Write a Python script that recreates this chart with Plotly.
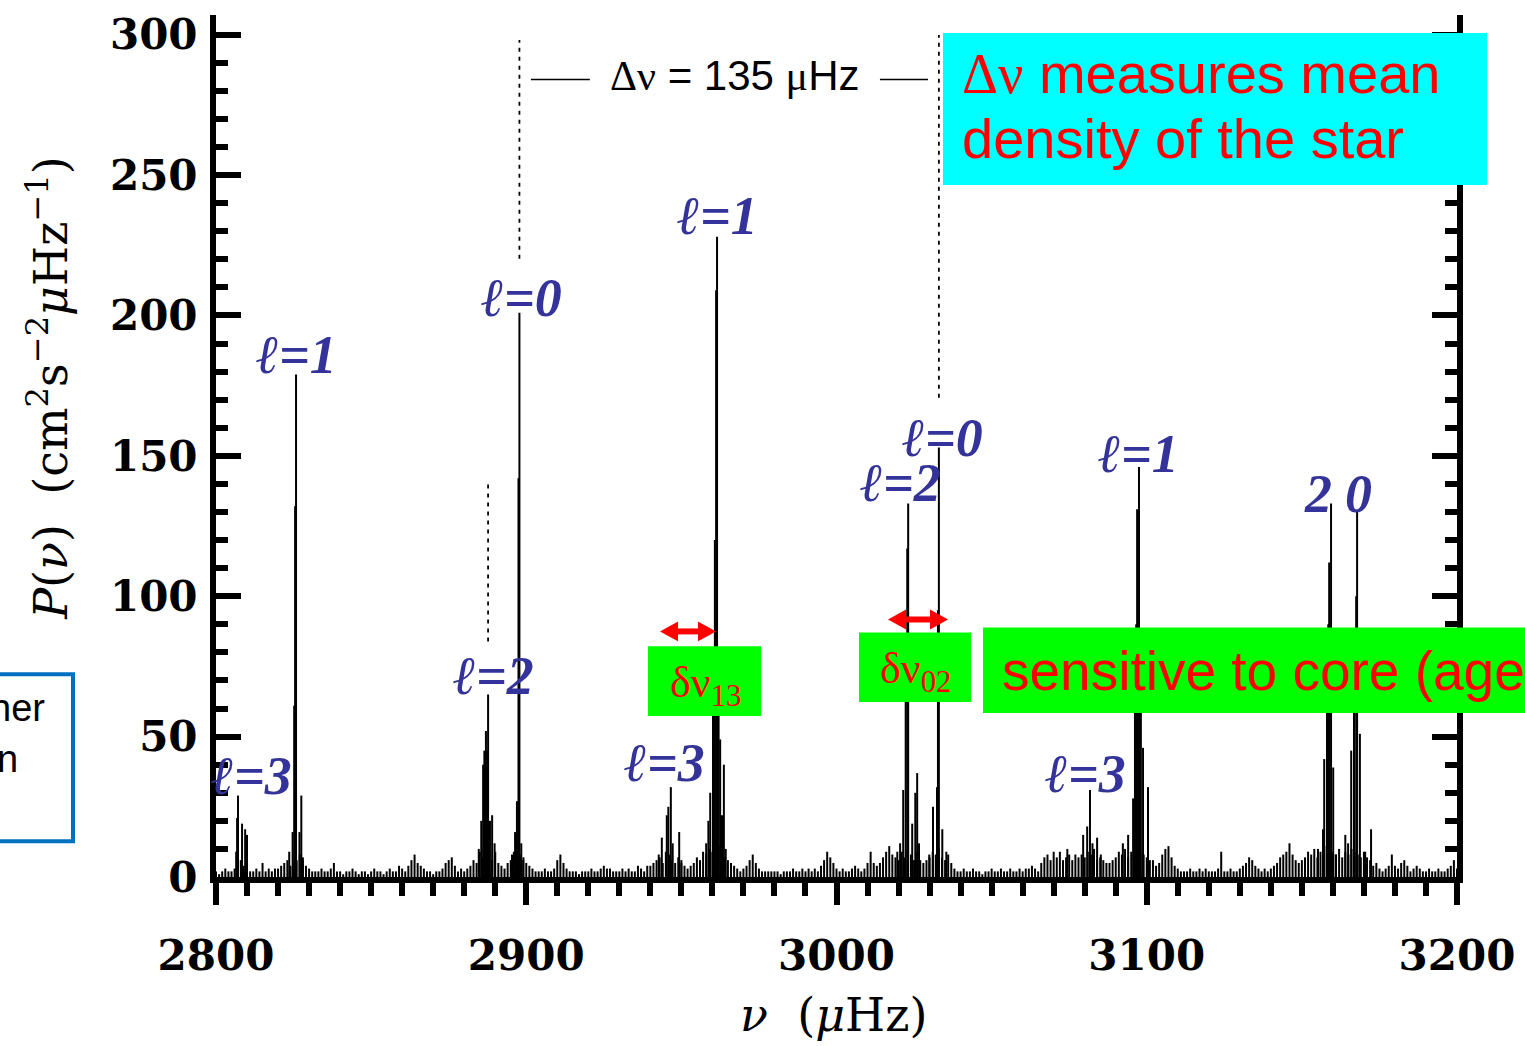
import plotly.graph_objects as go

# ---------------- data ----------------
nu_range = [2800, 3200]          # micro-Hz
p_range = [0, 307]               # cm^2 s^-2 uHz^-1

# background noise, one value per 1 uHz bin starting at 2800 uHz
noise_start = 2800.0
noise_step = 1.0
noise_p = [
    2, 1, 2, 3, 2, 2, 3, 5, 6, 4, 3, 2, 2, 3, 2, 5, 2, 3, 2, 3,      # 2800
    3, 4, 5, 6, 4, 5, 6, 8, 6, 4, 3, 2, 2, 2, 3, 2, 2, 3, 5, 2,      # 2820
    2, 1, 2, 2, 3, 2, 1, 2, 2, 1, 2, 3, 2, 2, 1, 2, 3, 2, 2, 4,      # 2840
    3, 2, 4, 6, 8, 5, 4, 3, 2, 2, 1, 2, 2, 3, 5, 6, 7, 4, 2, 3,      # 2860
    2, 3, 4, 6, 5, 9, 7, 11, 8, 6, 9, 5, 4, 3, 5, 6, 9, 7, 8, 6,     # 2880
    5, 4, 3, 2, 2, 2, 3, 2, 2, 3, 6, 8, 5, 3, 2, 2, 2, 1, 2, 2,      # 2900
    2, 3, 2, 2, 3, 4, 3, 3, 2, 2, 2, 3, 2, 3, 2, 2, 4, 3, 2, 4,      # 2920
    4, 5, 6, 7, 5, 9, 8, 6, 5, 7, 5, 4, 3, 4, 5, 7, 6, 9, 8, 10,     # 2940
    9, 7, 11, 8, 7, 6, 5, 4, 3, 2, 3, 4, 6, 8, 5, 3, 2, 2, 2, 2,     # 2960
    2, 2, 1, 2, 2, 2, 3, 2, 2, 3, 2, 3, 2, 3, 2, 4, 6, 9, 7, 5,      # 2980
    3, 2, 3, 2, 2, 3, 4, 3, 2, 3, 5, 9, 5, 4, 5, 7, 9, 11, 8, 7,     # 3000
    6, 9, 7, 10, 8, 6, 9, 6, 5, 6, 7, 9, 8, 10, 7, 6, 8, 5, 3, 2,    # 3020
    2, 3, 2, 2, 3, 2, 2, 1, 2, 2, 3, 2, 2, 3, 2, 2, 3, 2, 2, 3,      # 3040
    2, 3, 3, 4, 3, 2, 5, 7, 8, 6, 9, 7, 9, 6, 7, 8, 6, 8, 7, 8,      # 3060
    7, 9, 8, 10, 6, 7, 6, 5, 5, 6, 7, 9, 8, 10, 7, 9, 8, 11, 9, 8,   # 3080
    7, 6, 6, 4, 5, 8, 10, 11, 7, 4, 3, 2, 2, 2, 3, 2, 2, 3, 2, 3,    # 3100
    2, 2, 2, 3, 9, 2, 2, 3, 2, 2, 3, 4, 5, 7, 6, 4, 3, 2, 3, 2,      # 3120
    3, 4, 5, 7, 8, 9, 12, 8, 6, 5, 6, 7, 9, 8, 10, 7, 9, 8, 11, 9,   # 3140
    9, 8, 10, 7, 9, 8, 10, 9, 8, 7, 9, 7, 6, 4, 5, 3, 2, 3, 4, 8,    # 3160
    4, 3, 5, 6, 4, 2, 3, 4, 3, 2, 2, 3, 2, 2, 3, 2, 2, 3, 4, 6, 3,   # 3180-3200
]

# resolved oscillation-mode spikes (frequency, power)
peak_nu = [
    2806.5, 2806.8, 2807.1, 2808.4, 2809.4, 2810.0,                                  # l=3
    2823.6, 2824.7, 2825.2, 2825.5, 2825.8, 2826.9, 2827.5, 2828.0,                  # l=1
    2884.7, 2885.5, 2886.1, 2886.5, 2887.0, 2887.4, 2887.7, 2888.3, 2889.0, 2889.8,  # l=2
    2895.4, 2896.4, 2897.0, 2897.5, 2897.8, 2898.4, 2899.1,                          # l=0
    2942.7, 2943.7, 2945.3, 2945.8, 2946.6, 2947.2, 2949.3, 2950.0,                  # l=3
    2958.0, 2958.7, 2959.3, 2960.2, 2960.8, 2961.2, 2961.5, 2962.0, 2962.5, 2963.1, 2963.7, 2964.3,  # l=1
    3019.6, 3020.5, 3021.5, 3022.3, 3022.8, 3023.1, 3024.4, 3025.4, 3026.0, 3026.6,  # l=2
    3029.9, 3031.1, 3032.4, 3032.7, 3033.0, 3034.1, 3035.4,                          # l=0
    3074.4, 3079.5, 3080.8, 3081.7, 3082.5, 3084.0, 3085.2,                          # l=3
    3092.3, 3094.0, 3095.6, 3096.2, 3096.6, 3096.9, 3097.5, 3098.1, 3098.8, 3100.4,  # l=1
    3155.2, 3156.8, 3157.2, 3158.1, 3158.5, 3158.8, 3159.4, 3160.1, 3160.9,          # l=2
    3164.0, 3164.9, 3165.9, 3166.8, 3167.5, 3167.8, 3168.7, 3170.4, 3172.3,          # l=0
]
peak_p = [
    9, 21, 29, 19, 17, 15,
    9, 16, 61, 132, 179, 16, 29, 7,
    10, 20, 40, 45, 52, 45, 65, 20, 22, 12,
    8, 16, 27, 142, 201, 12, 7,
    8, 14, 22, 25, 32, 12, 16, 6,
    12, 20, 30, 60, 120, 209, 228, 59, 49, 22, 40, 10,
    9, 12, 31, 80, 117, 133, 19, 30, 37, 12,
    8, 25, 32, 95, 153, 17, 9,
    10, 15, 18, 31, 12, 14, 8,
    12, 15, 28, 75, 90, 131, 146, 65, 46, 32,
    10, 17, 42, 75, 90, 112, 133, 39, 8,
    15, 12, 45, 70, 100, 130, 51, 9, 17,
]

# mode labels
label_text = ["ℓ=3", "ℓ=1", "ℓ=2", "ℓ=0", "ℓ=3", "ℓ=1", "ℓ=2", "ℓ=0", "ℓ=1", "ℓ=3", "2", "0"]
label_nu = [2811.6, 2826.1, 2889.3, 2898.6, 2944.7, 2961.5, 3020.5, 3034.3, 3097.2, 3080.4, 3155.2, 3168.1]
label_p = [36.1, 185.9, 71.5, 206.1, 40.7, 235.5, 140.2, 156.2, 150.8, 36.8, 136.3, 136.3]

# large separation marker
delta_nu_left = 2897.8
delta_nu_right = 3033.0
x_tick_vals = [2800, 2900, 3000, 3100, 3200]
y_tick_vals = [0, 50, 100, 150, 200, 250, 300]

# ---------------- figure ----------------
W, H = 1525, 1046
ML, MR, MT, MB = 216, 68, 10, 169
PW, PH = W - ML - MR, H - MT - MB


def fx(px):
    return (px - ML) / PW


def fy(py):
    return (MT + PH - py) / PH


def stems(xs, ys):
    sx, sy = [], []
    for x, y in zip(xs, ys):
        sx += [x, x, None]
        sy += [0, y, None]
    return sx, sy


noise_nu = [noise_start + i * noise_step for i in range(len(noise_p))]
nx, ny = stems(noise_nu, noise_p)
px_, py_ = stems(peak_nu, peak_p)

fig = go.Figure()
fig.add_trace(go.Scatter(x=nx, y=ny, mode="lines", line=dict(color="black", width=2.0),
                         hoverinfo="skip", showlegend=False))
fig.add_trace(go.Scatter(x=px_, y=py_, mode="lines", line=dict(color="black", width=2.0),
                         hoverinfo="skip", showlegend=False))

tick_font = dict(family="DejaVu Serif", size=42, color="black", weight="bold")
title_font = dict(family="DejaVu Serif", size=46, color="black")
serif = "Liberation Serif"
sans = "Liberation Sans"

fig.update_layout(
    width=W, height=H, autosize=False,
    margin=dict(l=ML, r=MR, t=MT, b=MB, pad=0),
    paper_bgcolor="white", plot_bgcolor="white",
    showlegend=False,
    xaxis=dict(range=nu_range, tickvals=x_tick_vals, ticks="outside", ticklen=22, tickwidth=6,
               tickcolor="black", showline=True, linewidth=6, linecolor="black",
               showgrid=False, zeroline=False, tickfont=tick_font, ticklabelstandoff=15,
               minor=dict(dtick=10, ticks="outside", ticklen=13, tickwidth=6, tickcolor="black",
                          showgrid=False)),
    yaxis=dict(range=p_range, tickvals=y_tick_vals, ticks="inside", ticklen=25, tickwidth=6,
               tickcolor="black", showline=True, linewidth=6, linecolor="black", mirror="ticks",
               showgrid=False, zeroline=False, tickfont=tick_font, ticklabelstandoff=4,
               minor=dict(dtick=10, ticks="inside", ticklen=12, tickwidth=6, tickcolor="black",
                          showgrid=False)),
)

shapes = []
# dotted guide lines
dot = dict(color="black", width=1.8, dash="4px,5px")
shapes.append(dict(type="line", xref="x", yref="y", x0=delta_nu_left, x1=delta_nu_left,
                   y0=220.2, y1=298.1, line=dot))
shapes.append(dict(type="line", xref="x", yref="y", x0=delta_nu_right, x1=delta_nu_right,
                   y0=170.7, y1=299.9, line=dot))
shapes.append(dict(type="line", xref="x", yref="y", x0=2887.7, x1=2887.7,
                   y0=83.9, y1=140.6, line=dot))
# bracket lines of the delta-nu label
shapes.append(dict(type="line", xref="x", yref="y", x0=2901.5, x1=2920.5, y0=284.0, y1=284.0,
                   line=dict(color="black", width=1.5)))
shapes.append(dict(type="line", xref="x", yref="y", x0=3014.0, x1=3029.5, y0=284.0, y1=284.0,
                   line=dict(color="black", width=1.5)))
# coloured boxes
shapes.append(dict(type="rect", xref="paper", yref="paper", x0=fx(943), x1=fx(1487),
                   y0=fy(181), y1=fy(28), fillcolor="#00FFFF", line=dict(width=0)))
shapes.append(dict(type="rect", xref="paper", yref="paper", x0=fx(648), x1=fx(761),
                   y0=fy(715), y1=fy(645), fillcolor="#00FF00", line=dict(width=0)))
shapes.append(dict(type="rect", xref="paper", yref="paper", x0=fx(859), x1=fx(971),
                   y0=fy(701), y1=fy(631), fillcolor="#00FF00", line=dict(width=0)))
shapes.append(dict(type="rect", xref="paper", yref="paper", x0=fx(983), x1=fx(1545),
                   y0=fy(712), y1=fy(626), fillcolor="#00FF00", line=dict(width=0)))
shapes.append(dict(type="rect", xref="paper", yref="paper", x0=fx(-10), x1=fx(73),
                   y0=fy(841), y1=fy(673), fillcolor="rgba(0,0,0,0)",
                   line=dict(color="#0070C0", width=4)))

# red double-headed arrows (shaft + two heads), pixel geometry -> paper coords
for xl, xr, yy in [(660, 716, 630), (888, 948, 618)]:
    head_len, head_half = 18, 10
    shapes.append(dict(type="line", xref="paper", yref="paper",
                       x0=fx(xl + head_len - 2), x1=fx(xr - head_len + 2), y0=fy(yy), y1=fy(yy),
                       line=dict(color="#FF0000", width=6)))
    left_head = (f"M {fx(xl)} {fy(yy)} L {fx(xl + head_len)} {fy(yy - head_half)} "
                 f"L {fx(xl + head_len)} {fy(yy + head_half)} Z")
    right_head = (f"M {fx(xr)} {fy(yy)} L {fx(xr - head_len)} {fy(yy - head_half)} "
                  f"L {fx(xr - head_len)} {fy(yy + head_half)} Z")
    for pth in (left_head, right_head):
        shapes.append(dict(type="path", xref="paper", yref="paper", path=pth,
                           fillcolor="#FF0000", line=dict(width=0)))
fig.update_layout(shapes=shapes)

ann = []
for t, x, y in zip(label_text, label_nu, label_p):
    ann.append(dict(x=x, y=y, xref="x", yref="y", text=t, showarrow=False,
                    xanchor="center", yanchor="middle",
                    font=dict(family=serif, size=54, color="#333399", weight="bold", style="italic")))

ann.append(dict(x=2967.0, y=285.5, xref="x", yref="y", showarrow=False,
                xanchor="center", yanchor="middle",
                text=f'<span style="font-family:{serif}">Δν</span> = 135 '
                     f'<span style="font-family:{serif}">μ</span>Hz',
                font=dict(family=sans, size=42, color="black")))

ann.append(dict(x=fx(960), y=fy(69), xref="paper", yref="paper", showarrow=False,
                xanchor="left", yanchor="middle",
                text=f'<span style="font-family:{serif}">Δν</span> measures mean',
                font=dict(family=sans, size=56, color="#FF0000")))
ann.append(dict(x=fx(960), y=fy(134), xref="paper", yref="paper", showarrow=False,
                xanchor="left", yanchor="middle", text="density of the star",
                font=dict(family=sans, size=56, color="#FF0000")))

ann.append(dict(x=fx(705), y=fy(684), xref="paper", yref="paper", showarrow=False,
                xanchor="center", yanchor="middle",
                text="δν<sub>13</sub>", font=dict(family=serif, size=44, color="#FF0000")))
ann.append(dict(x=fx(915), y=fy(670), xref="paper", yref="paper", showarrow=False,
                xanchor="center", yanchor="middle",
                text="δν<sub>02</sub>", font=dict(family=serif, size=44, color="#FF0000")))
ann.append(dict(x=fx(1000), y=fy(670), xref="paper", yref="paper", showarrow=False,
                xanchor="left", yanchor="middle", text="sensitive to core (age)",
                font=dict(family=sans, size=55, color="#FF0000")))

ann.append(dict(x=fx(47), y=fy(707), xref="paper", yref="paper", showarrow=False,
                xanchor="right", yanchor="middle", text="her",
                font=dict(family=sans, size=38, color="black")))
ann.append(dict(x=fx(20), y=fy(758), xref="paper", yref="paper", showarrow=False,
                xanchor="right", yanchor="middle", text="n",
                font=dict(family=sans, size=38, color="black")))

# axis titles
ann.append(dict(x=fx(833), y=fy(1016), xref="paper", yref="paper", showarrow=False,
                xanchor="center", yanchor="middle",
                text="<i>ν</i>\u00a0\u00a0(<i>μ</i>Hz)", font=title_font))
ann.append(dict(x=fx(48), y=fy(385), xref="paper", yref="paper", showarrow=False, textangle=-90,
                xanchor="center", yanchor="middle",
                text="<i>P</i>(<i>ν</i>)\u00a0\u00a0(cm<sup>2</sup>s<sup>−2</sup><i>μ</i>Hz<sup>−1</sup>)",
                font=title_font))

fig.update_layout(annotations=ann)
fig.write_html("out.html")
